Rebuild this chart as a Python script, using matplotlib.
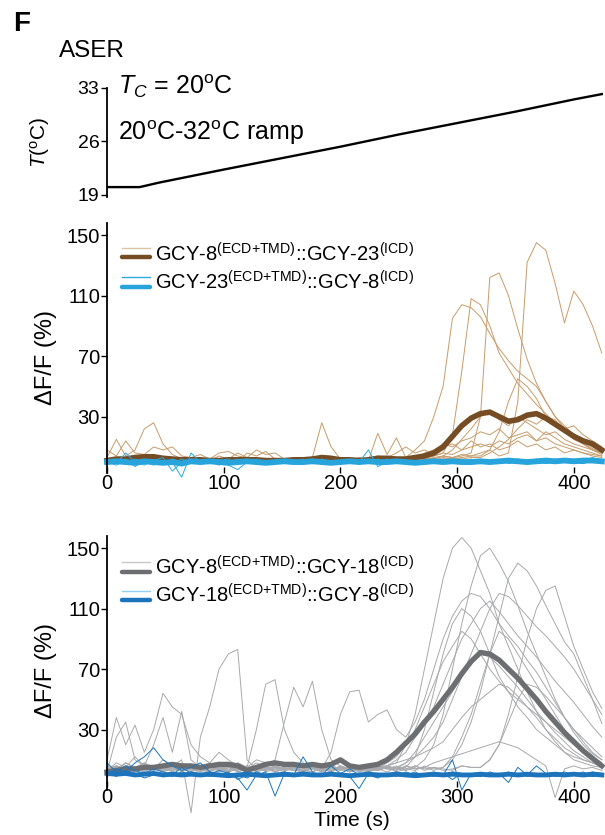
import numpy as np
import matplotlib
matplotlib.use("Agg")
import matplotlib.pyplot as plt

plt.rcParams['font.family'] = ['Liberation Sans', 'DejaVu Sans']
plt.rcParams['mathtext.fontset'] = 'custom'
plt.rcParams['mathtext.rm'] = 'Liberation Sans'
plt.rcParams['mathtext.it'] = 'Liberation Sans:italic'
plt.rcParams['mathtext.bf'] = 'Liberation Sans:bold'

# --- Data ---
t = list(range(0, 425, 8))  # sample times, s

temp_t = [0, 28, 45, 100, 150, 200, 250, 300, 350, 400, 424]
temp_c = [20.0, 20.0, 20.6, 22.3, 23.8, 25.3, 26.9, 28.4, 29.9, 31.5, 32.2]

# GCY-8(ECD+TMD)::GCY-23(ICD) single traces
brown_traces = [
    [2, 1, 3, 2, 1, 0, 2, 1, 3, 2, 1, 0, 1, 2, 1, 3, 2, 1, 0, 2,
     1, 0, 1, 2, 3, 1, 2, 1, 0, 2, 1, 2, 2, 1, 3, 2, 4, 3, 5, 4,
     6, 8, 4, 6, 40, 132, 145, 140, 118, 92, 113, 104, 90, 72],
    [0, 2, 1, 2, 4, 3, 1, 2, 1, 0, 2, 1, 2, 1, 0, 1, 2, 1, 2, 1,
     0, 2, 1, 2, 1, 0, 1, 2, 1, 2, 3, 2, 1, 2, 3, 2, 4, 3, 4, 6,
     30, 122, 125, 110, 88, 68, 52, 40, 30, 22, 16, 12, 8, 6],
    [1, 0, 2, 1, 0, 2, 1, 0, 1, 2, 0, 1, 2, 0, 1, 2, 1, 0, 2, 1,
     2, 1, 0, 1, 2, 1, 0, 1, 2, 1, 2, 3, 3, 8, 14, 30, 50, 95, 104, 102,
     96, 85, 75, 67, 60, 55, 50, 40, 30, 24, 18, 14, 10, 8],
    [1, 3, 2, 1, 2, 1, 3, 2, 1, 0, 1, 2, 1, 0, 2, 1, 0, 1, 2, 1,
     0, 1, 2, 1, 0, 2, 1, 0, 1, 2, 1, 2, 1, 2, 3, 4, 6, 18, 60, 108,
     104, 90, 72, 62, 52, 45, 38, 32, 26, 20, 16, 12, 9, 6],
    [0, 1, 2, 1, 0, 1, 2, 1, 0, 1, 2, 1, 0, 1, 2, 1, 0, 2, 1, 0,
     1, 2, 1, 0, 1, 2, 1, 0, 1, 2, 1, 0, 2, 1, 2, 1, 3, 2, 3, 4,
     4, 8, 20, 40, 55, 50, 42, 30, 28, 20, 15, 12, 8, 5],
    [1, 2, 3, 2, 1, 2, 1, 0, 1, 2, 1, 0, 1, 1, 2, 1, 0, 1, 0, 1,
     2, 1, 0, 1, 2, 1, 0, 1, 2, 1, 0, 1, 2, 3, 2, 3, 4, 8, 15, 22,
     30, 34, 28, 24, 30, 26, 22, 18, 20, 15, 12, 10, 8, 6],
    [0, 1, 0, 2, 1, 0, 1, 2, 1, 0, 1, 2, 0, 1, 0, 2, 1, 0, 1, 2,
     1, 0, 1, 2, 0, 1, 2, 1, 0, 1, 2, 1, 0, 1, 2, 1, 2, 3, 2, 3,
     3, 6, 10, 15, 22, 28, 25, 30, 26, 22, 24, 18, 14, 10],
    [2, 1, 0, 1, 2, 1, 0, 1, 2, 1, 0, 1, 2, 1, 0, 6, 4, 7, 2, 1,
     0, 1, 3, 26, 10, 2, 1, 0, 1, 19, 5, 16, 3, 2, 6, 8, 12, 10, 14, 16,
     20, 18, 22, 16, 18, 20, 14, 16, 12, 10, 8, 6, 5, 4],
    [3, 15, 4, 8, 22, 26, 12, 5, 2, 3, 2, 1, 4, 2, 6, 3, 2, 1, 0, 2,
     1, 2, 0, 1, 2, 1, 0, 2, 1, 0, 2, 1, 3, 2, 5, 4, 6, 5, 8, 10,
     12, 10, 14, 12, 16, 18, 14, 20, 16, 12, 10, 8, 6, 4],
    [8, 4, 14, 6, 5, 10, 8, 10, 4, 3, 5, 2, 6, 7, 4, 3, 8, 5, 6, 2,
     1, 3, 2, 1, 0, 2, 1, 3, 2, 4, 3, 6, 10, 6, 8, 5, 10, 12, 8, 14,
     10, 12, 8, 10, 14, 10, 12, 8, 10, 6, 8, 6, 4, 3],
]
brown_mean = [1, 2, 2, 3, 3.5, 3.5, 2.5, 2, 1.5, 1.5, 1.5, 1, 1, 1.5, 1.5, 1.5, 1.5, 1, 1, 1,
              1.5, 1.5, 2, 3, 2.5, 1.5, 1.5, 1, 1.5, 2.5, 2.5, 2, 2, 3, 4, 6, 10, 17, 24, 29,
              32, 33, 30, 27, 28, 31, 32, 29, 25, 21, 17, 14, 12, 8]

# GCY-23(ECD+TMD)::GCY-8(ICD)
cyan_traces = [
    [0, 1, -1, 2, 0, -2, 1, 0, -10, 6, 0, 1, -1, 0, 2, -1, 0, 1, -1, 0,
     1, 0, -1, 2, 0, -1, 1, 0, 8, -3, 0, 1, -1, 0, 1, 0, -1, 2, 0, 1,
     -1, 0, 1, 2, 0, -1, 1, 0, 2, 1, 0, 1, 3, 1],
    [1, -1, 6, 0, -2, 1, 0, -1, 2, 0, -1, 1, 0, -2, -5, 0, 1, -1, 0, 2,
     -1, 0, 1, -1, 0, 1, 0, -1, 1, 0, -1, 0, 1, 0, -1, 1, 2, 0, -1, 1,
     0, -1, 1, 0, 2, 1, 0, -1, 1, 0, 2, 1, 0, 1],
    [-1, 0, 2, -3, 1, 0, -1, 2, 0, -1, 1, 0, -2, 1, 0, -1, 2, 0, -1, 1,
     0, 2, -1, 0, 1, -1, 0, 1, -1, 0, 2, 0, -1, 1, 0, -1, 1, 0, 2, -1,
     0, 1, -1, 0, 1, 0, 2, -1, 0, 1, 0, -1, 1, 0],
    [0, -2, 1, 0, -1, 1, 3, -6, 0, 1, -1, 0, 1, 2, -1, 0, 1, -1, 0, 1,
     -1, 0, 2, 0, -1, 1, 0, -1, 0, 2, -1, 1, 0, -1, 1, 0, -1, 1, 0, 2,
     -1, 0, 1, -1, 0, 1, -1, 0, 1, 2, 0, -1, 1, 0],
]
cyan_mean = [0, 0.5, 0, -0.5, 0.5, 0, -0.5, 0, -1, 0.5, 0, 0.5, 0, -0.5, 0, 0.5, 0, -0.5, 0, 0.5,
             0, 0, 0.5, 0, -0.5, 0, 0.5, 0, 0.5, 0, 0, 0.5, 0, -0.5, 0, 0.5, 0, 0.5, 0, 0,
             0.5, 0, 0.5, 1, 0.5, 0, 0.5, 1, 0.5, 1, 0.5, 1, 1, 0.5]

# GCY-8(ECD+TMD)::GCY-18(ICD)
gray_traces = [
    [3, 8, 5, 12, 6, 4, 10, 6, 3, 5, 2, 6, 4, 3, 8, 5, 2, 4, 6, 3,
     5, 2, 4, 6, 3, 5, 2, 4, 6, 5, 6, 8, 20, 40, 70, 100, 130, 150, 157, 150,
     135, 120, 100, 85, 70, 55, 42, 30, 22, 15, 10, 8, 6, 5],
    [5, 2, 8, 4, 6, 3, 5, 8, 4, 2, 6, 3, 5, 2, 4, 6, 3, 5, 2, 4,
     3, 6, 4, 2, 5, 3, 6, 4, 3, 5, 4, 6, 3, 5, 10, 20, 40, 70, 100, 125,
     145, 150, 140, 128, 112, 95, 80, 65, 50, 38, 28, 20, 14, 10],
    [2, 6, 4, 3, 7, 5, 2, 4, 6, 3, 5, 8, 4, 2, 5, 3, 6, 4, 2, 5,
     3, 4, 6, 2, 5, 3, 4, 6, 3, 5, 4, 3, 6, 4, 5, 3, 5, 10, 20, 35,
     55, 80, 105, 130, 140, 135, 125, 112, 100, 88, 80, 65, 50, 34],
    [4, 2, 5, 3, 6, 4, 2, 5, 3, 4, 6, 3, 2, 5, 4, 3, 6, 2, 4, 5,
     3, 2, 5, 4, 3, 6, 2, 4, 5, 3, 5, 4, 3, 6, 4, 5, 3, 4, 6, 5,
     5, 10, 20, 40, 65, 90, 110, 122, 125, 105, 85, 70, 55, 44],
    [2, 4, 3, 5, 2, 6, 4, 3, 5, 2, 4, 6, 3, 2, 5, 4, 3, 6, 2, 4,
     5, 3, 2, 4, 6, 3, 5, 2, 4, 3, 6, 4, 5, 12, 30, 55, 80, 100, 110, 105,
     95, 80, 65, 55, 45, 38, 30, 25, 20, 15, 12, 10, 8, 6],
    [3, 5, 2, 4, 6, 3, 5, 2, 4, 6, 3, 2, 5, 4, 3, 6, 2, 4, 5, 3,
     4, 2, 6, 3, 5, 4, 2, 5, 3, 4, 2, 5, 4, 3, 6, 4, 5, 12, 25, 40,
     60, 80, 95, 90, 80, 70, 60, 50, 40, 30, 22, 16, 12, 8],
    [4, 3, 6, 2, 5, 4, 3, 6, 2, 5, 4, 3, 5, 6, 2, 4, 3, 5, 4, 2,
     6, 3, 5, 4, 2, 5, 3, 6, 4, 3, 5, 2, 4, 6, 3, 5, 4, 3, 6, 5,
     5, 10, 20, 35, 50, 60, 58, 52, 45, 38, 30, 24, 18, 12],
    [5, 3, 6, 4, 8, 5, 3, 6, 10, -25, 25, 45, 70, 80, 83, 10, 4, 3, 6, 4,
     5, 3, 6, 4, 2, 5, 3, 6, 4, 5, 6, 8, 10, 12, 15, 18, 22, 30, 38, 45,
     50, 55, 60, 58, 52, 45, 38, 30, 24, 18, 14, 10, 8, 6],
    [10, 38, 20, 33, 15, 30, 54, 45, 40, 20, 12, 8, 15, 10, 6, 4, 8, 5, 3, 6,
     4, 2, 5, 3, 6, 4, 5, 3, 2, 4, 6, 10, 15, 25, 35, 45, 60, 75, 90, 100,
     110, 115, 108, 100, 92, 85, 78, 70, 62, 55, 48, 40, 32, 25],
    [6, 4, 8, 5, 3, 6, 4, 8, 5, 3, 6, 4, 3, 5, 8, 5, 30, 60, 63, 30,
     15, 8, 5, 3, 6, 4, 5, 3, 6, 4, 8, 12, 20, 30, 45, 60, 75, 85, 95, 90,
     80, 70, 62, 55, 50, 45, 40, 35, 30, 25, 20, 15, 12, 8],
    [3, 6, 4, 2, 5, 3, 6, 4, 3, 5, 4, 2, 6, 3, 5, 4, 3, 6, 10, 35,
     58, 45, 62, 30, 10, 6, 4, 5, 3, 6, 4, 5, 8, 12, 18, 25, 35, 50, 65, 80,
     95, 110, 120, 118, 112, 105, 98, 92, 85, 78, 70, 60, 50, 40],
    [5, 3, 6, 4, 2, 5, 3, 6, 4, 5, 3, 6, 4, 5, 2, 4, 6, 3, 5, 4,
     6, 3, 5, 4, 15, 40, 55, 56, 35, 40, 43, 30, 25, 35, 50, 70, 90, 105, 115, 120,
     118, 110, 100, 92, 85, 76, 68, 58, 48, 38, 30, 22, 15, 10],
    [4, 6, 3, 5, 8, 4, 6, 3, 5, 4, 2, 5, 3, 6, 4, 2, 5, 3, 6, 4,
     5, 3, 2, 6, 4, 5, 3, 6, 2, 4, 5, 3, 6, 4, 5, 8, 10, 12, 14, 16,
     18, 20, 22, 20, 18, 14, 10, 6, -15, 4, 6, 4, 5, 3],
    [2, 25, 35, 10, 6, 20, 38, 15, 42, 10, 5, 8, 4, 6, 3, 5, 10, 8, 6, 4,
     3, 6, 4, 5, 3, 6, 4, 2, 5, 3, 6, 4, 8, 15, 25, 35, 45, 55, 65, 75,
     80, 78, 72, 65, 58, 50, 42, 35, 28, 22, 16, 12, 8, 5],
]
gray_mean = [2, 3, 4, 4, 5, 5, 6, 7, 6, 6, 5, 6, 7, 7, 6, 3, 5, 7, 8, 7,
             7, 6, 7, 6, 7, 10, 6, 5, 6, 7, 10, 15, 21, 27, 35, 42, 50, 58, 67, 75,
             81, 80, 76, 70, 64, 57, 50, 42, 35, 28, 22, 16, 11, 6]

# GCY-18(ECD+TMD)::GCY-8(ICD)
blue_traces = [
    [0, 4, 2, 8, 12, 18, 10, 6, 3, 5, 8, 2, 0, 1, -2, -10, 0, 2, -14, 1,
     0, 12, 2, -1, 1, 0, -1, -9, 1, 0, 1, -1, 2, 0, -1, 1, 0, 10, -10, 1,
     0, -1, 1, -5, 5, 0, 1, -1, 0, 2, 0, -1, 1, 0],
    [8, 2, 6, 3, 1, 4, 2, 0, 5, 1, 0, 2, -1, 1, 0, -2, 1, 0, -1, 2,
     0, 1, -1, 0, 6, 1, 0, -1, 2, 0, -1, 1, 0, 2, -1, 0, 1, -3, 1, 0,
     -1, 2, 0, 1, -1, 0, 6, 1, 0, -1, 1, 0, 2, 1],
    [2, -1, 3, 1, 0, 2, -1, 1, 0, 2, -1, 0, 3, 1, 0, -1, 2, 0, 1, -1,
     0, 2, 1, -1, 0, 1, 4, 0, -1, 1, 0, 2, -1, 0, 1, -1, 0, 2, 1, 0,
     -1, 1, 0, 2, -1, 0, 1, -1, 0, 1, 0, 2, -1, 1],
    [-1, 2, 0, 1, -2, 0, 1, -1, 2, 0, 1, -1, 0, 2, -3, 0, 1, -1, 0, 1,
     -1, 0, 1, -1, 2, 0, -1, 1, 0, -2, 1, 0, -1, 1, 0, 2, -1, 0, 1, -1,
     0, 1, -1, 0, 1, -1, 0, 1, -1, 0, 1, 0, -1, 0],
]
blue_mean = [1, 0.5, 1, 0, 0.5, 1, 0, 0.5, 0, 0.5, 0, 0.5, 0, -0.5, 0, 0.5, 0, -0.5, 0, 0.5,
             0, 0.5, 0, 0, 0.5, 0, -0.5, 0, 0.5, 0, 0, 0.5, 0, -0.5, 0, 0.5, 0, 0.5, 0, 0,
             0.5, 0, 0, 0.5, 0, 0.5, 0, 0, 0.5, 0, 0.5, 0, 0.5, 0]

labels_mid = [r"GCY-8$^{\mathregular{(ECD{+}TMD)}}$::GCY-23$^{\mathregular{(ICD)}}$",
              r"GCY-23$^{\mathregular{(ECD{+}TMD)}}$::GCY-8$^{\mathregular{(ICD)}}$"]
labels_bot = [r"GCY-8$^{\mathregular{(ECD{+}TMD)}}$::GCY-18$^{\mathregular{(ICD)}}$",
              r"GCY-18$^{\mathregular{(ECD{+}TMD)}}$::GCY-8$^{\mathregular{(ICD)}}$"]

TAN, BROWN = '#C69C6D', '#754C24'
CYAN, CYAN_DK = '#29ABE2', '#27A4DC'
LGRAY, DGRAY = '#A7A9AC', '#6D6E71'
BLUE, LBLUE = '#1C75BC', '#8ED1F0'

fig = plt.figure(figsize=(6.05, 8.35), dpi=100)
L, W = 107 / 605, 496 / 605
ax_t = fig.add_axes([L, 1 - 197 / 835, W, 109 / 835])
ax_m = fig.add_axes([L, 1 - 466.6 / 835, W, 243.6 / 835])
ax_b = fig.add_axes([L, 1 - 781 / 835, W, 245 / 835])

# --- temperature ---
ax_t.plot(temp_t, temp_c, color='black', lw=1.7)
ax_t.set_xlim(0, 425)
ax_t.set_ylim(18.7, 33)
ax_t.set_yticks([19, 26, 33])
ax_t.set_xticks([])
for s in ('top', 'right', 'bottom'):
    ax_t.spines[s].set_visible(False)
ax_t.spines['left'].set_linewidth(1.3)
ax_t.tick_params(axis='y', direction='out', length=4.5, width=1, labelsize=14, pad=1)
ax_t.set_ylabel(r"$T$($^{\mathregular{o}}$C)", fontsize=15, va='center')
ax_t.yaxis.set_label_coords(-0.135, 0.505)
ax_t.text(0.022, 0.945, r"$T_C$ = 20$^{\mathregular{o}}$C", transform=ax_t.transAxes,
          fontsize=18, va='baseline')
ax_t.text(0.022, 0.523, r"20$^{\mathregular{o}}$C-32$^{\mathregular{o}}$C ramp",
          transform=ax_t.transAxes, fontsize=18, va='baseline')


def style_axes(ax, ylim, spine_low):
    ax.set_xlim(0, 425)
    ax.set_ylim(*ylim)
    ax.set_yticks([30, 70, 110, 150])
    ax.set_xticks([0, 100, 200, 300, 400])
    for s in ('top', 'right', 'bottom'):
        ax.spines[s].set_visible(False)
    ax.spines['left'].set_linewidth(1.3)
    ax.spines['left'].set_bounds(spine_low, ylim[1])
    ax.tick_params(direction='out', length=4, width=1, labelsize=14.5, pad=1)
    ax.set_ylabel(u"\u0394F/F (%)", fontsize=17, va='center')


def legend_entry(ax, y_thin, y_thick, y_text, c_thin, c_thick, text):
    ax.plot([0.03, 0.087], [y_thin, y_thin], transform=ax.transAxes, color=c_thin,
            lw=1.0, clip_on=False)
    ax.plot([0.03, 0.087], [y_thick, y_thick], transform=ax.transAxes, color=c_thick,
            lw=3.2, solid_capstyle='round', clip_on=False)
    ax.text(0.097, y_text, text, transform=ax.transAxes, fontsize=14.5, va='baseline')


# --- middle panel ---
for tr in brown_traces:
    ax_m.plot(t, tr, color=TAN, lw=0.7, clip_on=False)
ax_m.plot(t, brown_mean, color=BROWN, lw=4, clip_on=False)
for tr in cyan_traces:
    ax_m.plot(t, tr, color=CYAN, lw=0.7, clip_on=False)
ax_m.plot(t, cyan_mean, color=CYAN_DK, lw=4.2, clip_on=False)
style_axes(ax_m, (-3, 158), -7)
ax_m.yaxis.set_label_coords(-0.123, 0.446)
legend_entry(ax_m, 0.897, 0.861, 0.840, '#DCC3A6', BROWN, labels_mid[0])
legend_entry(ax_m, 0.778, 0.737, 0.725, CYAN, CYAN_DK, labels_mid[1])

# --- bottom panel ---
for tr in gray_traces:
    ax_b.plot(t, tr, color=LGRAY, lw=0.7, clip_on=False)
ax_b.plot(t, gray_mean, color=DGRAY, lw=3.8, clip_on=False)
for tr in blue_traces:
    ax_b.plot(t, tr, color=BLUE, lw=0.7, clip_on=False)
ax_b.plot(t, blue_mean, color=BLUE, lw=3.5, clip_on=False)
style_axes(ax_b, (-4, 158), -10)
ax_b.yaxis.set_label_coords(-0.123, 0.453)
ax_b.set_xlabel("Time (s)", fontsize=15, va='center')
ax_b.xaxis.set_label_coords(0.494, -0.163)
legend_entry(ax_b, 0.894, 0.853, 0.841, '#C8C8C8', DGRAY, labels_bot[0])
legend_entry(ax_b, 0.776, 0.739, 0.727, LBLUE, BLUE, labels_bot[1])

fig.text(13 / 605, 1 - 31 / 835, 'F', fontsize=20, fontweight='bold', va='baseline')
fig.text(59 / 605, 1 - 57 / 835, 'ASER', fontsize=17.5, va='baseline')

fig.savefig('out.png', dpi=100)
